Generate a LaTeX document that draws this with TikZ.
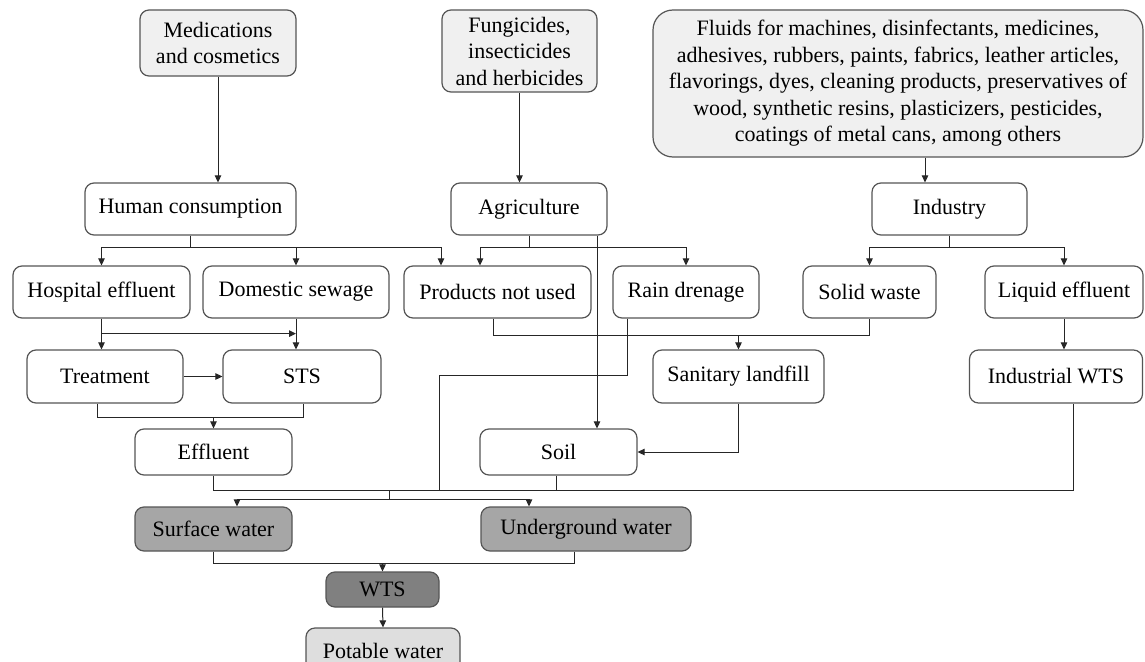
\documentclass[tikz,border=0pt]{standalone}
\usepackage{fontspec}
\setmainfont{Liberation Serif}
\usetikzlibrary{arrows.meta}
\definecolor{boxline}{HTML}{555555}
\definecolor{lineclr}{HTML}{262626}
\definecolor{lightfill}{HTML}{F0F0F0}
\definecolor{watergray}{HTML}{A6A6A6}
\definecolor{wtsgray}{HTML}{808080}
\definecolor{potfill}{HTML}{DEDEDE}
\begin{document}
\begin{tikzpicture}[x=1pt,y=-1pt,
  box/.style={draw=boxline, line width=1.2pt, rounded corners=9pt, fill=white,
    inner sep=0pt, align=center, font=\fontsize{22}{26.5}\selectfont},
  src/.style={box, fill=lightfill},
  water/.style={box, fill=watergray},
  conn/.style={draw=lineclr, line width=1pt},
  arr/.style={conn, -{Triangle[length=7pt,width=6.5pt]}},
]
\useasboundingbox[fill=white] (0,0) rectangle (1145,661);

% sources
\node[src, minimum width=156pt, minimum height=66pt] (med) at (218,43) {Medications\\and cosmetics};
\node[src, minimum width=155pt, minimum height=82pt] (fung) at (519.5,51) {Fungicides,\\insecticides\\and herbicides};
\node[src, rounded corners=20pt, minimum width=490pt, minimum height=147pt] (fluids) at (898,83.5)
  {Fluids for machines, disinfectants, medicines,\\adhesives, rubbers, paints, fabrics, leather articles,\\flavorings, dyes, cleaning products, preservatives of\\wood, synthetic resins, plasticizers, pesticides,\\coatings of metal cans, among others};

% second row
\node[box, minimum width=211pt, minimum height=52pt] (hc) at (190.5,209) {Human consumption};
\node[box, minimum width=156pt, minimum height=52pt] (agr) at (529,209) {Agriculture};
\node[box, minimum width=155pt, minimum height=52pt] (ind) at (949.5,209) {Industry};

% third row
\node[box, minimum width=177pt, minimum height=52pt] (hosp) at (101.5,292) {Hospital effluent};
\node[box, minimum width=186pt, minimum height=52pt] (dom) at (296,292) {Domestic sewage};
\node[box, minimum width=187pt, minimum height=52pt] (pnu) at (497.5,292) {Products not used};
\node[box, minimum width=146pt, minimum height=52pt] (rain) at (686,292) {Rain drenage};
\node[box, minimum width=133pt, minimum height=52pt] (solid) at (869.5,292) {Solid waste};
\node[box, minimum width=158pt, minimum height=52pt] (liquid) at (1064,292) {Liquid effluent};

% fourth row
\node[box, minimum width=156pt, minimum height=53pt] (treat) at (105,376.5) {Treatment};
\node[box, minimum width=158pt, minimum height=53pt] (sts) at (302,376.5) {STS};
\node[box, minimum width=171pt, minimum height=53pt] (land) at (738.5,376.5) {Sanitary landfill};
\node[box, minimum width=173pt, minimum height=53pt] (iwts) at (1056,376.5) {Industrial WTS};

% fifth row
\node[box, minimum width=157pt, minimum height=46pt] (eff) at (213.5,452) {Effluent};
\node[box, minimum width=157pt, minimum height=46pt] (soil) at (558.5,452) {Soil};

% water
\node[water, minimum width=157pt, minimum height=44pt] (surf) at (213.5,529) {Surface water};
\node[water, minimum width=210pt, minimum height=44pt] (under) at (586,529) {Underground water};
\node[box, fill=wtsgray, minimum width=113pt, minimum height=35pt] (wts) at (382.5,589.5) {WTS};
\node[box, fill=potfill, minimum width=154pt, minimum height=46pt] (pot) at (383,651) {Potable water};

% junction coordinates
\coordinate (rdrop) at (439,375);
\coordinate (dj) at (389,490);
\coordinate (dk) at (389,499);
\coordinate (wj) at (382.5,563);

% sources to sectors
\draw[arr] (med.south) -- (med.south |- hc.north);
\draw[arr] (fung.south) -- (fung.south |- agr.north);
\draw[arr] ([xshift=-24.5pt]ind.north |- fluids.south) -- ([xshift=-24.5pt]ind.north);

% human consumption
\draw[conn] (hc.south) -- ++(0,12) coordinate (hcj);
\draw[arr] (hcj) -| (hosp.north);
\draw[arr] (hcj) -| (dom.north);
\draw[arr] (hcj) -| ([xshift=-56.5pt]pnu.north);

% agriculture
\draw[conn] (agr.south) -- ++(0,12) coordinate (agj);
\draw[arr] (agj) -| ([xshift=-17.5pt]pnu.north);
\draw[arr] (agj) -| (rain.north);
\draw[arr] ([xshift=68pt]agr.south) -- ([xshift=68pt]agr.south |- soil.north);

% industry
\draw[conn] (ind.south) -- ++(0,12) coordinate (inj);
\draw[arr] (inj) -| (solid.north);
\draw[arr] (inj) -| (liquid.north);

% hospital / domestic
\draw[arr] (hosp.south) -- (hosp.south |- treat.north);
\path (hosp.south) -- ++(0,15) coordinate (hj);
\draw[arr] (hj) -- (hj -| dom.south);
\draw[arr] (dom.south) -- (dom.south |- sts.north);
\draw[arr] (treat.east) -- (sts.west);

% treatment + STS to effluent
\draw[conn] ([xshift=-8pt]treat.south) -- ++(0,14) coordinate (tj) -| ([xshift=1pt]sts.south);
\draw[arr] (tj -| eff.north) -- (eff.north);

% products not used + solid waste to landfill
\draw[conn] ([xshift=-4.5pt]pnu.south) -- ++(0,17) coordinate (pj) -| (solid.south);
\draw[arr] (pj -| land.north) -- (land.north);

% landfill to soil
\draw[arr] (land.south) |- (soil.east);

% liquid effluent to industrial WTS
\draw[arr] (liquid.south) -- (liquid.south |- iwts.north);

% rain drainage
\draw[conn] ([xshift=-59pt]rain.south) |- (rdrop) -- (rdrop |- dj);

% collector
\path (eff.south) -- ++(0,15) coordinate (cj);
\coordinate (iw) at ([xshift=17pt]iwts.south);
\draw[conn] (eff.south) -- (cj) -- (iw |- cj) -- (iw);
\draw[conn] ([xshift=-2.5pt]soil.south) -- ([xshift=-2.5pt]soil.south |- cj);
\draw[conn] (dj) -- (dk);
\draw[arr] (dk) -| ([xshift=23.5pt]surf.north);
\draw[arr] (dk) -| ([xshift=-57pt]under.north);

% water to WTS
\draw[conn] (surf.south) |- (wj);
\draw[conn] ([xshift=-12pt]under.south) |- (wj);
\draw[arr] (wj) -- (wts.north);
\draw[arr] (wts.south) -- (pot.north);
\end{tikzpicture}
\end{document}
